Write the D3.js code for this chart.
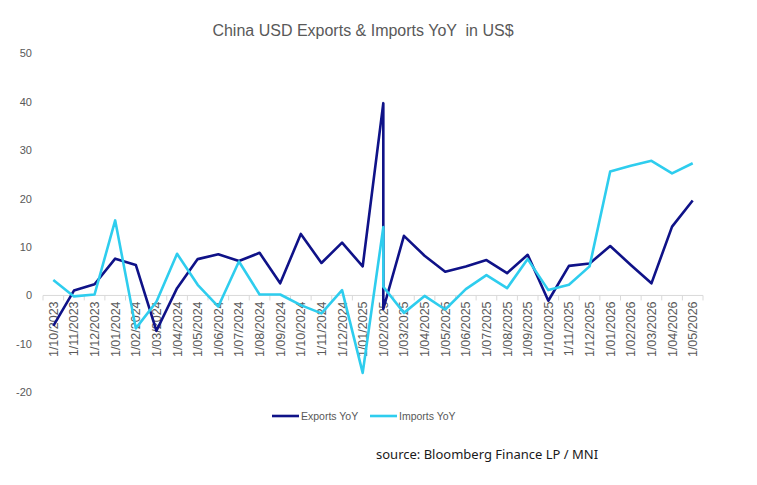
<!DOCTYPE html>
<html>
<head>
<meta charset="utf-8">
<script src="https://cdn.jsdelivr.net/npm/d3@7"></script>
<style>
  body { margin: 0; background: #fff; }
  svg text { font-family: "Liberation Sans Narrow", "Liberation Sans", Arial, sans-serif; }
</style>
</head>
<body>
<div id="chart"></div>
<script>
// category labels on the x axis (monthly)
const months = ["1/10/2023","1/11/2023","1/12/2023","1/01/2024","1/02/2024","1/03/2024","1/04/2024",
  "1/05/2024","1/06/2024","1/07/2024","1/08/2024","1/09/2024","1/10/2024","1/11/2024","1/12/2024",
  "1/01/2025","1/02/2025","1/03/2025","1/04/2025","1/05/2025","1/06/2025","1/07/2025","1/08/2025",
  "1/09/2025","1/10/2025","1/11/2025","1/12/2025","1/01/2026","1/02/2026","1/03/2026","1/04/2026","1/05/2026"];

// each data point's month (Feb 2025 has two readings on the same slot)
const pointMonths = ["1/10/2023","1/11/2023","1/12/2023","1/01/2024","1/02/2024","1/03/2024","1/04/2024",
  "1/05/2024","1/06/2024","1/07/2024","1/08/2024","1/09/2024","1/10/2024","1/11/2024","1/12/2024",
  "1/01/2025","1/02/2025","1/02/2025","1/03/2025","1/04/2025","1/05/2025","1/06/2025","1/07/2025","1/08/2025",
  "1/09/2025","1/10/2025","1/11/2025","1/12/2025","1/01/2026","1/02/2026","1/03/2026","1/04/2026","1/05/2026"];

const exportsYoY = [-6.3, 1.0, 2.3, 7.6, 6.3, -7.3, 1.5, 7.5, 8.5, 7.1, 8.8, 2.5, 12.7, 6.7, 10.9,
  6.0, 39.7, -2.8, 12.3, 8.2, 4.9, 6.0, 7.3, 4.6, 8.4, -1.1, 6.1, 6.6, 10.2, 6.3, 2.5, 14.2, 19.6];

const importsYoY = [3.2, -0.2, 0.2, 15.5, -6.8, -1.3, 8.6, 2.2, -2.3, 7.0, 0.2, 0.2, -2.0, -3.7, 1.1,
  -16.0, 14.1, 1.8, -3.6, -0.1, -2.9, 1.3, 4.2, 1.5, 7.5, 1.1, 2.2, 6.0, 25.6, 26.8, 27.8, 25.2, 27.3];

const yTicks = [-20, -10, 0, 10, 20, 30, 40, 50];

const seriesNames = ["Exports YoY", "Imports YoY"];
const colors = ["#0f1288", "#2ecdee"];

const width = 757, height = 485;
const svg = d3.select('#chart').append('svg')
  .attr('width', width)
  .attr('height', height);

const x = d3.scaleBand().domain(months).range([43, 703]).padding(0);
const y = d3.scaleLinear().domain([-20, 50]).range([392.3, 53.3]);
const cx = m => x(m) + x.bandwidth() / 2;

// title
svg.append('text')
  .attr('x', 363).attr('y', 36)
  .attr('text-anchor', 'middle')
  .style('font-size', '16px')
  .style('white-space', 'pre')
  .style('fill', '#595959')
  .text('China USD Exports & Imports YoY  in US$');

// y axis labels
svg.append('g').selectAll('text')
  .data(yTicks)
  .enter().append('text')
  .attr('x', 32)
  .attr('y', d => y(d) + 4)
  .attr('text-anchor', 'end')
  .style('font-size', '11px')
  .style('fill', '#595959')
  .text(d => d);

// x axis line at zero + boundary ticks
const axisY = y(0);
svg.append('line')
  .attr('x1', 43).attr('x2', 703)
  .attr('y1', axisY).attr('y2', axisY)
  .style('stroke', '#d9d9d9').style('stroke-width', 1);

svg.append('g').selectAll('line')
  .data(months.map(m => x(m)).concat([x.range()[1]]))
  .enter().append('line')
  .attr('x1', d => d).attr('x2', d => d)
  .attr('y1', axisY).attr('y2', axisY + 5)
  .style('stroke', '#d9d9d9').style('stroke-width', 1);

// rotated x labels
svg.append('g').selectAll('text')
  .data(months)
  .enter().append('text')
  .attr('transform', d => `translate(${cx(d) + 4.5},${axisY + 6}) rotate(-90)`)
  .attr('text-anchor', 'end')
  .style('font-size', '12.5px')
  .style('fill', '#595959')
  .text(d => d);

// lines
const line = d3.line()
  .x(d => cx(d.m))
  .y(d => y(d.v));

[exportsYoY, importsYoY].forEach((vals, i) => {
  const pts = vals.map((v, j) => ({ m: pointMonths[j], v }));
  svg.append('path')
    .datum(pts)
    .attr('d', line)
    .style('fill', 'none')
    .style('stroke', colors[i])
    .style('stroke-width', 2.6)
    .style('stroke-linejoin', 'round');
});

// legend
const legendX = [272, 370];
seriesNames.forEach((name, i) => {
  const lg = svg.append('g').attr('transform', `translate(${legendX[i]},416)`);
  lg.append('line')
    .attr('x1', 0).attr('x2', 27)
    .attr('y1', 0).attr('y2', 0)
    .style('stroke', colors[i]).style('stroke-width', 2.6);
  lg.append('text')
    .attr('x', 29).attr('y', 4)
    .style('font-size', '10.5px')
    .style('fill', '#595959')
    .text(name);
});

// source note
svg.append('text')
  .attr('x', 376).attr('y', 459)
  .style('font-size', '13px')
  .style('font-family', '"Noto Sans", sans-serif')
  .style('fill', '#1a1a1a')
  .text('source: Bloomberg Finance LP / MNI');
</script>
</body>
</html>
